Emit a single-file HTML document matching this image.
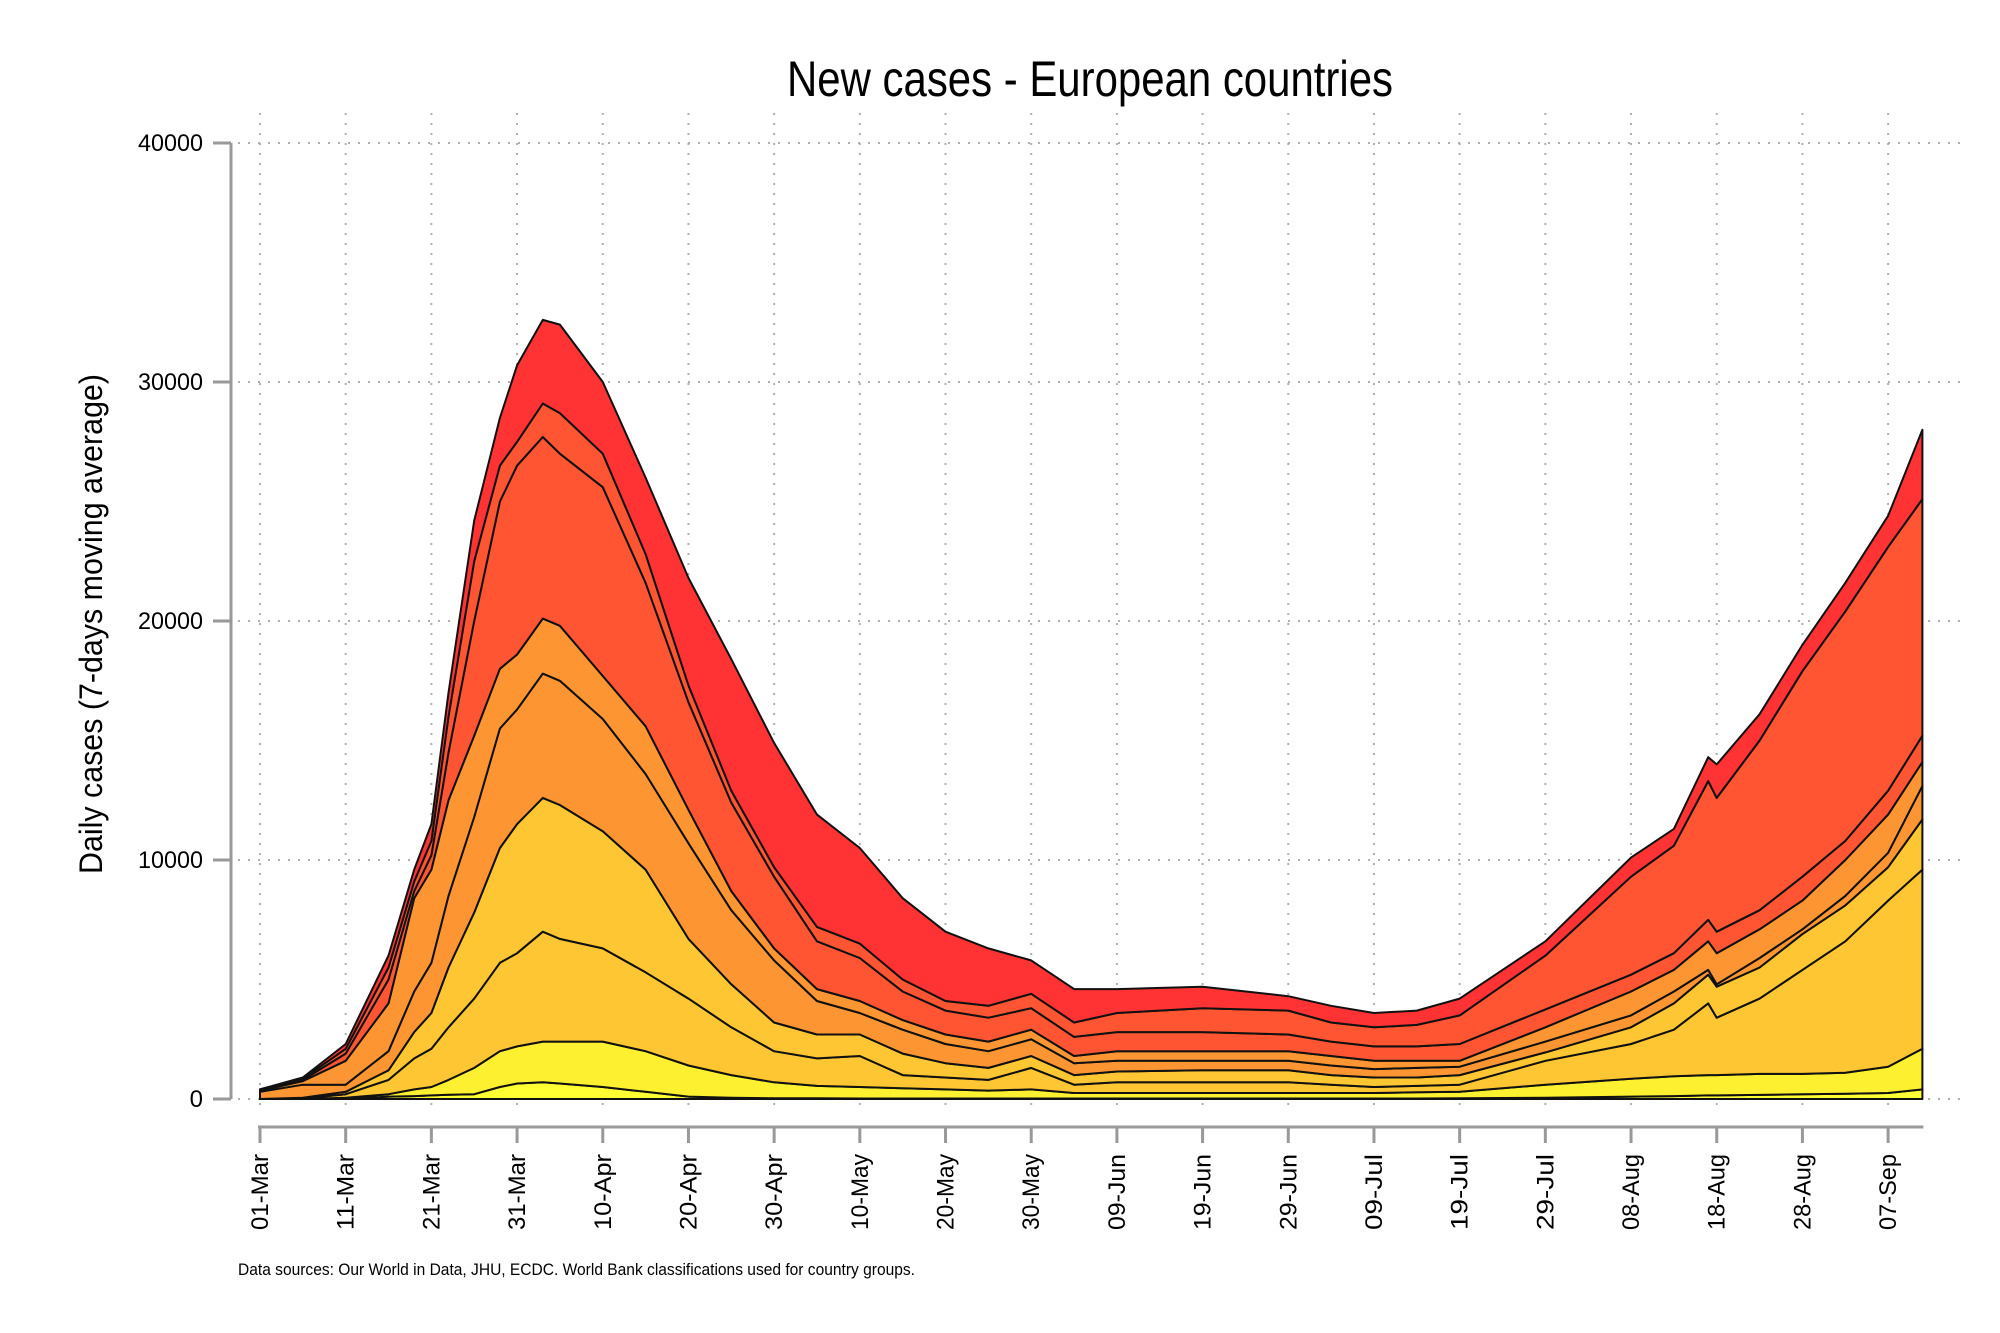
<!DOCTYPE html>
<html><head><meta charset="utf-8">
<style>
html,body{margin:0;padding:0;background:#fff;}
svg{display:block;font-family:"Liberation Sans",Arial,sans-serif;}
</style></head>
<body>
<svg id="chart" width="2000" height="1333" viewBox="0 0 2000 1333" xmlns="http://www.w3.org/2000/svg">
<rect width="2000" height="1333" fill="#fff"/>
<text x="1090" y="96" text-anchor="middle" font-size="50" textLength="606" lengthAdjust="spacingAndGlyphs">New cases - European countries</text>
<text transform="translate(102,624) rotate(-90)" text-anchor="middle" font-size="32" textLength="500" lengthAdjust="spacingAndGlyphs">Daily cases (7-days moving average)</text>
<text x="238" y="1275" font-size="17" textLength="677" lengthAdjust="spacingAndGlyphs">Data sources: Our World in Data, JHU, ECDC. World Bank classifications used for country groups.</text>
<g id="grid"></g>
<g id="areas"></g>
<g id="axes"></g>
</svg>
<script>
// Sample days (days since 01-Mar)
const days = [0,5,10,15,18,20,22,25,28,30,33,35,40,45,50,55,60,65,70,75,80,85,90,95,100,110,120,125,130,135,140,150,160,165,169,170,175,180,185,190,194];
// Cumulative stack tops (thousands of cases), bottom -> top
const b1 = [0,0,0,0.1,0.12,0.15,0.18,0.2,0.5,0.65,0.7,0.65,0.5,0.3,0.1,0.05,0.03,0.03,0.02,0.02,0.02,0.02,0.02,0.02,0.02,0.02,0.02,0.02,0.02,0.02,0.03,0.05,0.1,0.12,0.15,0.15,0.17,0.2,0.22,0.25,0.4];
const b2 = [0,0,0.05,0.2,0.4,0.5,0.8,1.3,2.0,2.2,2.4,2.4,2.4,2.0,1.4,1.0,0.7,0.55,0.5,0.45,0.4,0.35,0.4,0.25,0.25,0.25,0.25,0.25,0.25,0.28,0.3,0.6,0.85,0.95,1.0,1.0,1.05,1.05,1.1,1.35,2.1];
const b3 = [0,0.02,0.2,0.8,1.7,2.1,3.0,4.2,5.7,6.1,7.0,6.7,6.3,5.3,4.2,3.0,2.0,1.7,1.8,1.0,0.9,0.8,1.3,0.6,0.7,0.7,0.7,0.6,0.5,0.55,0.6,1.6,2.3,2.9,4.0,3.4,4.2,5.4,6.6,8.3,9.6];
const b4 = [0,0.05,0.3,1.2,2.8,3.6,5.5,7.8,10.5,11.5,12.6,12.3,11.2,9.6,6.7,4.8,3.2,2.7,2.7,1.9,1.5,1.3,1.8,1.0,1.15,1.2,1.2,1.0,0.9,0.9,1.0,1.95,3.0,4.0,5.2,4.7,5.5,6.9,8.1,9.7,11.7];
const b5 = [0.3,0.6,0.6,2.0,4.5,5.7,8.5,11.8,15.5,16.3,17.8,17.5,15.9,13.6,10.7,7.9,5.8,4.1,3.6,2.9,2.3,2.0,2.5,1.5,1.6,1.6,1.6,1.4,1.25,1.3,1.35,2.4,3.5,4.5,5.4,4.8,5.9,7.1,8.5,10.3,13.1];
const b6 = [0.35,0.75,1.6,4.0,8.4,9.6,12.5,15.2,18.0,18.6,20.1,19.8,17.7,15.6,12.1,8.7,6.3,4.6,4.1,3.3,2.7,2.4,2.9,1.8,2.0,2.0,2.0,1.8,1.6,1.6,1.6,3.0,4.5,5.4,6.6,6.1,7.1,8.3,10.0,11.9,14.1];
const b7 = [0.38,0.8,1.9,5.0,8.7,10.2,14.5,20.0,25.0,26.5,27.7,27.0,25.6,21.6,16.6,12.4,9.3,6.6,5.9,4.5,3.7,3.4,3.8,2.6,2.8,2.8,2.7,2.4,2.2,2.2,2.3,3.75,5.2,6.1,7.5,7.0,7.9,9.3,10.8,12.9,15.2];
const b8 = [0.4,0.85,2.1,5.5,9.1,10.8,16.0,22.5,26.5,27.5,29.1,28.7,27.0,22.8,17.3,12.9,9.7,7.2,6.5,5.0,4.1,3.9,4.4,3.2,3.6,3.8,3.7,3.2,3.0,3.1,3.5,6.0,9.3,10.6,13.3,12.6,15.0,17.9,20.4,23.1,25.1];
const total = [0.4,0.9,2.3,6.0,9.6,11.5,17.0,24.2,28.5,30.7,32.6,32.4,30.0,26.0,21.8,18.4,14.9,11.9,10.5,8.4,7.0,6.3,5.8,4.6,4.6,4.7,4.3,3.9,3.6,3.7,4.2,6.6,10.1,11.3,14.3,14.0,16.1,19.0,21.6,24.4,28.0];
const yTicks = [0,10000,20000,30000,40000];
const xTickDays = [0,10,20,30,40,50,60,70,80,90,100,110,120,130,140,150,160,170,180,190];
const xTickLabels = ["01-Mar","11-Mar","21-Mar","31-Mar","10-Apr","20-Apr","30-Apr","10-May","20-May","30-May","09-Jun","19-Jun","29-Jun","09-Jul","19-Jul","29-Jul","08-Aug","18-Aug","28-Aug","07-Sep"];

const NS = "http://www.w3.org/2000/svg";
const X = d => 260 + d * 8.569;
const Y = v => 1099 - v * 0.0239; // v in cases
const Yk = v => Y(v * 1000);

function mk(tag, attrs, parent){
  const e = document.createElementNS(NS, tag);
  for (const k in attrs) e.setAttribute(k, attrs[k]);
  parent.appendChild(e);
  return e;
}
const grid = document.getElementById('grid');
const areas = document.getElementById('areas');
const axes = document.getElementById('axes');

xTickDays.forEach(d => {
  const l = mk('line', {x1:X(d), x2:X(d), y1:113, y2:1112, stroke:'#b0b0b0', 'stroke-width':2, 'stroke-dasharray':'2,8'}, grid);
  
  
});
yTicks.forEach(v => {
  const l = mk('line', {x1:218, x2:1960, y1:Y(v), y2:Y(v), stroke:'#b0b0b0', 'stroke-width':2, 'stroke-dasharray':'2,8'}, grid);
  
  
});

const zeros = days.map(() => 0);
const layers = [
  {lo: zeros, hi: b1, c:'#ffff33', n:'layer-1'},
  {lo: b1, hi: b2, c:'#fcf030', n:'layer-2'},
  {lo: b2, hi: b3, c:'#fec632', n:'layer-3'},
  {lo: b3, hi: b4, c:'#fec632', n:'layer-4'},
  {lo: b4, hi: b5, c:'#fd9632', n:'layer-5'},
  {lo: b5, hi: b6, c:'#fd9632', n:'layer-6'},
  {lo: b6, hi: b7, c:'#ff5533', n:'layer-7'},
  {lo: b7, hi: b8, c:'#ff5533', n:'layer-8'},
  {lo: b8, hi: total, c:'#ff3333', n:'layer-9'}
];
layers.forEach(L => {
  let d = '';
  days.forEach((dd, i) => { d += (i ? 'L' : 'M') + X(dd).toFixed(1) + ',' + Yk(L.hi[i]).toFixed(1); });
  for (let i = days.length - 1; i >= 0; i--) d += 'L' + X(days[i]).toFixed(1) + ',' + Yk(L.lo[i]).toFixed(1);
  d += 'Z';
  const p = mk('path', {d:d, fill:L.c, stroke:'#111', 'stroke-width':2, 'stroke-linejoin':'round'}, areas);
  
  
});

const ya = mk('line', {x1:231, x2:231, y1:Y(40000), y2:Y(0), stroke:'#999', 'stroke-width':3}, axes);


yTicks.forEach(v => {
  mk('line', {x1:213, x2:231, y1:Y(v), y2:Y(v), stroke:'#999', 'stroke-width':3}, axes);
  const t = mk('text', {x:203, y:Y(v) + 8, 'text-anchor':'end', 'font-size':24}, axes);
  if (String(v).length > 1) { t.setAttribute('textLength', 13 * String(v).length); t.setAttribute('lengthAdjust', 'spacingAndGlyphs'); }
  t.textContent = v;
  
  
});
const xa = mk('line', {x1:258, x2:X(194) + 1, y1:1127, y2:1127, stroke:'#999', 'stroke-width':3}, axes);


xTickDays.forEach((d, i) => {
  mk('line', {x1:X(d), x2:X(d), y1:1127, y2:1143, stroke:'#999', 'stroke-width':3}, axes);
  const t = mk('text', {transform:'translate(' + (X(d) + 8) + ',1154) rotate(-90)', 'text-anchor':'end', 'font-size':24, textLength:76, lengthAdjust:'spacingAndGlyphs'}, axes);
  t.textContent = xTickLabels[i];
  
  
});
</script>
</body></html>
